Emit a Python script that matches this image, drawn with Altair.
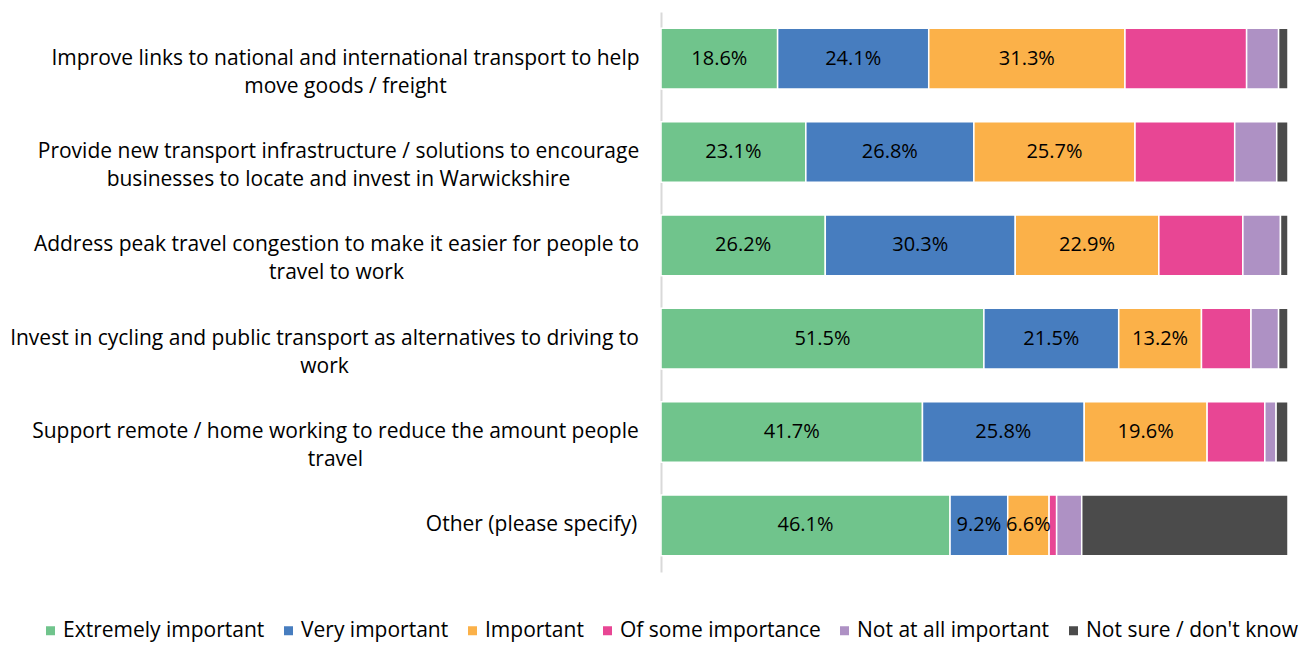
import altair as alt
import pandas as pd

categories = [
    "Improve links to national and international transport to help\nmove goods / freight",
    "Provide new transport infrastructure / solutions to encourage\nbusinesses to locate and invest in Warwickshire",
    "Address peak travel congestion to make it easier for people to\ntravel to work",
    "Invest in cycling and public transport as alternatives to driving to\nwork",
    "Support remote / home working to reduce the amount people\ntravel",
    "Other (please specify)",
]
series_names = [
    "Extremely important",
    "Very important",
    "Important",
    "Of some importance",
    "Not at all important",
    "Not sure / don't know",
]
extremely = [18.6, 23.1, 26.2, 51.5, 41.7, 46.1]
very = [24.1, 26.8, 30.3, 21.5, 25.8, 9.2]
important = [31.3, 25.7, 22.9, 13.2, 19.6, 6.6]
some = [19.4, 15.9, 13.4, 7.9, 9.2, 1.2]
not_at_all = [5.1, 6.7, 6.0, 4.4, 1.8, 4.0]
not_sure = [1.5, 1.8, 1.2, 1.5, 1.9, 32.9]
colors = ["#70C48C", "#477DBF", "#FBB149", "#E84694", "#AE91C4", "#4B4B4B"]

# distance from the axis to the centre of each (centre-aligned) label block
label_center_offsets = [316, 323, 325, 337, 326, 130]

series_values = [extremely, very, important, some, not_at_all, not_sure]
rows = []
for si, (name, vals) in enumerate(zip(series_names, series_values)):
    for ci, cat in enumerate(categories):
        rows.append({"category": cat, "series": name, "order": si, "value": vals[ci]})
df = pd.DataFrame(rows)

FONT = "Open Sans"

pad_expr = " : ".join(
    f"datum.value === {cat!r} ? {off}" for cat, off in zip(categories, label_center_offsets)
).replace("\n", "\\n") + " : 22"

base = alt.Chart(df).transform_stack(
    stack="value", groupby=["category"], sort=[alt.SortField("order")], as_=["x0", "x1"]
).transform_calculate(
    mid="(datum.x0 + datum.x1) / 2",
    label="format(datum.value, '.1f') + '%'",
)

y_enc = alt.Y(
    "category:N",
    sort=categories,
    title=None,
    scale=alt.Scale(paddingInner=0.35, paddingOuter=0.175),
    axis=alt.Axis(
        labelExpr="split(datum.value, '\\n')",
        labelAlign="center",
        labelBaseline="middle",
        labelPadding={"condition": {"test": "true", "expr": pad_expr}, "value": 22},
        labelFontSize=21,
        labelLineHeight=28,
        labelFont=FONT,
        labelColor="#000000",
        labelLimit=700,
        ticks=False,
        domainColor="#D9D9D9",
        domainWidth=2,
        grid=False,
    ),
)

x_scale = alt.Scale(domain=[0, 100], nice=False, zero=True)

bars = base.mark_bar(stroke="white", strokeWidth=1.5).encode(
    x=alt.X("x0:Q", scale=x_scale, axis=None),
    x2="x1:Q",
    y=y_enc,
    color=alt.Color(
        "series:N",
        sort=series_names,
        scale=alt.Scale(domain=series_names, range=colors),
        legend=alt.Legend(
            title=None,
            orient="none",
            direction="horizontal",
            columns=6,
            legendX=-621,
            legendY=608,
            symbolType="square",
            symbolSize=81,
            symbolStrokeWidth=0,
            labelFontSize=21,
            labelFont=FONT,
            labelColor="#000000",
            labelOffset=2,
            columnPadding=13,
            labelLimit=400,
        ),
    ),
    order=alt.Order("order:Q"),
)

texts = base.transform_filter("datum.order < 3").mark_text(
    fontSize=20, font=FONT, color="#000000", baseline="middle", align="center"
).encode(
    x=alt.X("mid:Q", scale=x_scale, axis=None),
    y=alt.Y("category:N", sort=categories),
    text="label:N",
)

chart = alt.layer(bars, texts).properties(
    width=627,
    height=560,
    background="white",
    autosize=alt.AutoSizeParams(type="none"),
    padding={"left": 653, "top": 4, "right": 18, "bottom": 72},
).configure_view(strokeWidth=0, stroke=None)

chart.save("out.html", embed_options={"renderer": "svg", "actions": False})
